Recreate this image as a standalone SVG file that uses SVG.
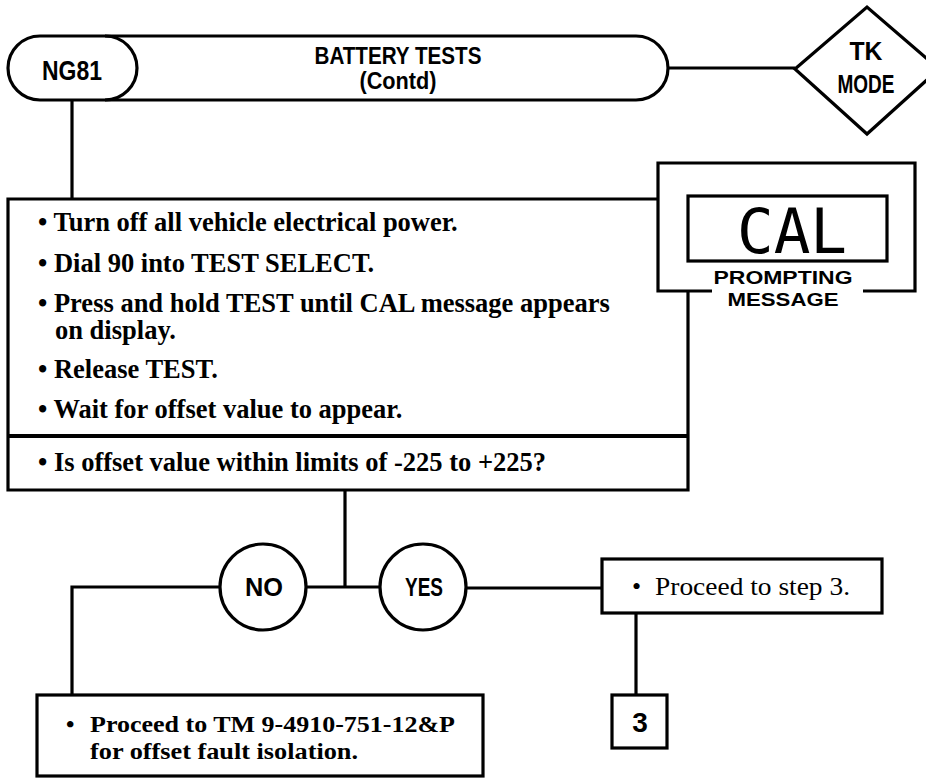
<svg xmlns="http://www.w3.org/2000/svg" width="926" height="778" viewBox="0 0 926 778">
<style>
.ln{fill:none;stroke:#000;stroke-width:3.2;stroke-linejoin:miter}
.sh{fill:#fff;stroke:#000;stroke-width:3.2}
.hd{font-family:"Liberation Sans","DejaVu Sans",sans-serif;font-weight:bold;fill:#000;text-anchor:middle}
.bd{font-family:"Liberation Serif","DejaVu Serif",serif;font-weight:bold;font-size:26.5px;fill:#000}
.rg{font-family:"Liberation Serif","DejaVu Serif",serif;font-weight:bold;font-size:24px;fill:#000}
.nm{font-family:"Liberation Serif","DejaVu Serif",serif;font-weight:normal;font-size:26px;fill:#000}
</style>
<rect width="926" height="778" fill="#fff"/>
<g id="connectors" class="ln">
<path d="M72,100 V199"/>
<path d="M668,68 H795"/>
<path d="M345,490 V587"/>
<path d="M306,587 H380"/>
<path d="M466,588 H602"/>
<path d="M220,587 H72 V695"/>
<path d="M636,613 V695"/>
</g>
<g id="header">
<rect class="sh" x="8" y="36" width="660" height="64" rx="32" ry="32"/>
<path class="ln" d="M105,36 A32,32 0 0 1 105,100"/>
<text class="hd" x="72" y="80" font-size="27" textLength="60" lengthAdjust="spacingAndGlyphs">NG81</text>
<text class="hd" x="398" y="64" font-size="23" textLength="167" lengthAdjust="spacingAndGlyphs">BATTERY TESTS</text>
<text class="hd" x="398" y="89" font-size="23" textLength="77" lengthAdjust="spacingAndGlyphs">(Contd)</text>
</g>
<g id="tk-mode">
<polygon class="sh" points="795,69 867,7 939,69 867,134"/>
<text class="hd" x="866" y="60" font-size="25" textLength="33" lengthAdjust="spacingAndGlyphs">TK</text>
<text class="hd" x="866" y="93" font-size="25" textLength="57" lengthAdjust="spacingAndGlyphs">MODE</text>
</g>
<g id="main-step">
<path class="ln" d="M658,199 H8 V490 H688 V291"/>
<path d="M8,436 H688" fill="none" stroke="#000" stroke-width="4"/>
<text class="bd" x="38" y="231">• Turn off all vehicle electrical power.</text>
<text class="bd" x="38" y="272">• Dial 90 into TEST SELECT.</text>
<text class="bd" x="38" y="312">• Press and hold TEST until CAL message appears</text>
<text class="bd" x="55" y="339">on display.</text>
<text class="bd" x="38" y="378">• Release TEST.</text>
<text class="bd" x="38" y="418">• Wait for offset value to appear.</text>
<text class="bd" x="38" y="471">• Is offset value within limits of -225 to +225?</text>
</g>
<g id="prompting-message">
<path class="ln" d="M712,291 H658 V163 H915 V291 H863"/>
<rect class="sh" x="688" y="196" width="199" height="65"/>
<text x="792" y="253" font-family="'DejaVu Sans Mono','Liberation Mono',monospace" font-size="62" font-weight="200" text-anchor="middle" textLength="110" lengthAdjust="spacingAndGlyphs">CAL</text>
<text class="hd" x="783" y="284" font-size="19" textLength="139" lengthAdjust="spacingAndGlyphs">PROMPTING</text>
<text class="hd" x="783" y="306" font-size="19" textLength="111" lengthAdjust="spacingAndGlyphs">MESSAGE</text>
</g>
<g id="no">
<circle class="sh" cx="263" cy="587" r="43"/>
<text class="hd" x="264" y="596" font-size="25" textLength="38" lengthAdjust="spacingAndGlyphs">NO</text>
</g>
<g id="yes">
<circle class="sh" cx="423" cy="587" r="43"/>
<text class="hd" x="424" y="596" font-size="25" textLength="38" lengthAdjust="spacingAndGlyphs">YES</text>
</g>
<g id="step3-action">
<rect class="sh" x="602" y="559" width="280" height="54"/>
<text class="nm" x="632" y="595">•</text>
<text class="nm" x="655" y="595" textLength="195" lengthAdjust="spacingAndGlyphs">Proceed to step 3.</text>
</g>
<g id="no-action">
<rect class="sh" x="37" y="695" width="446" height="81"/>
<text class="rg" x="66" y="732">•</text>
<text class="rg" x="90" y="732" textLength="365" lengthAdjust="spacingAndGlyphs">Proceed to TM 9-4910-751-12&amp;P</text>
<text class="rg" x="90" y="759" textLength="268" lengthAdjust="spacingAndGlyphs">for offset fault isolation.</text>
</g>
<g id="step3">
<rect class="sh" x="612" y="695" width="55" height="53"/>
<text class="hd" x="640" y="732" font-size="28">3</text>
</g>
</svg>
